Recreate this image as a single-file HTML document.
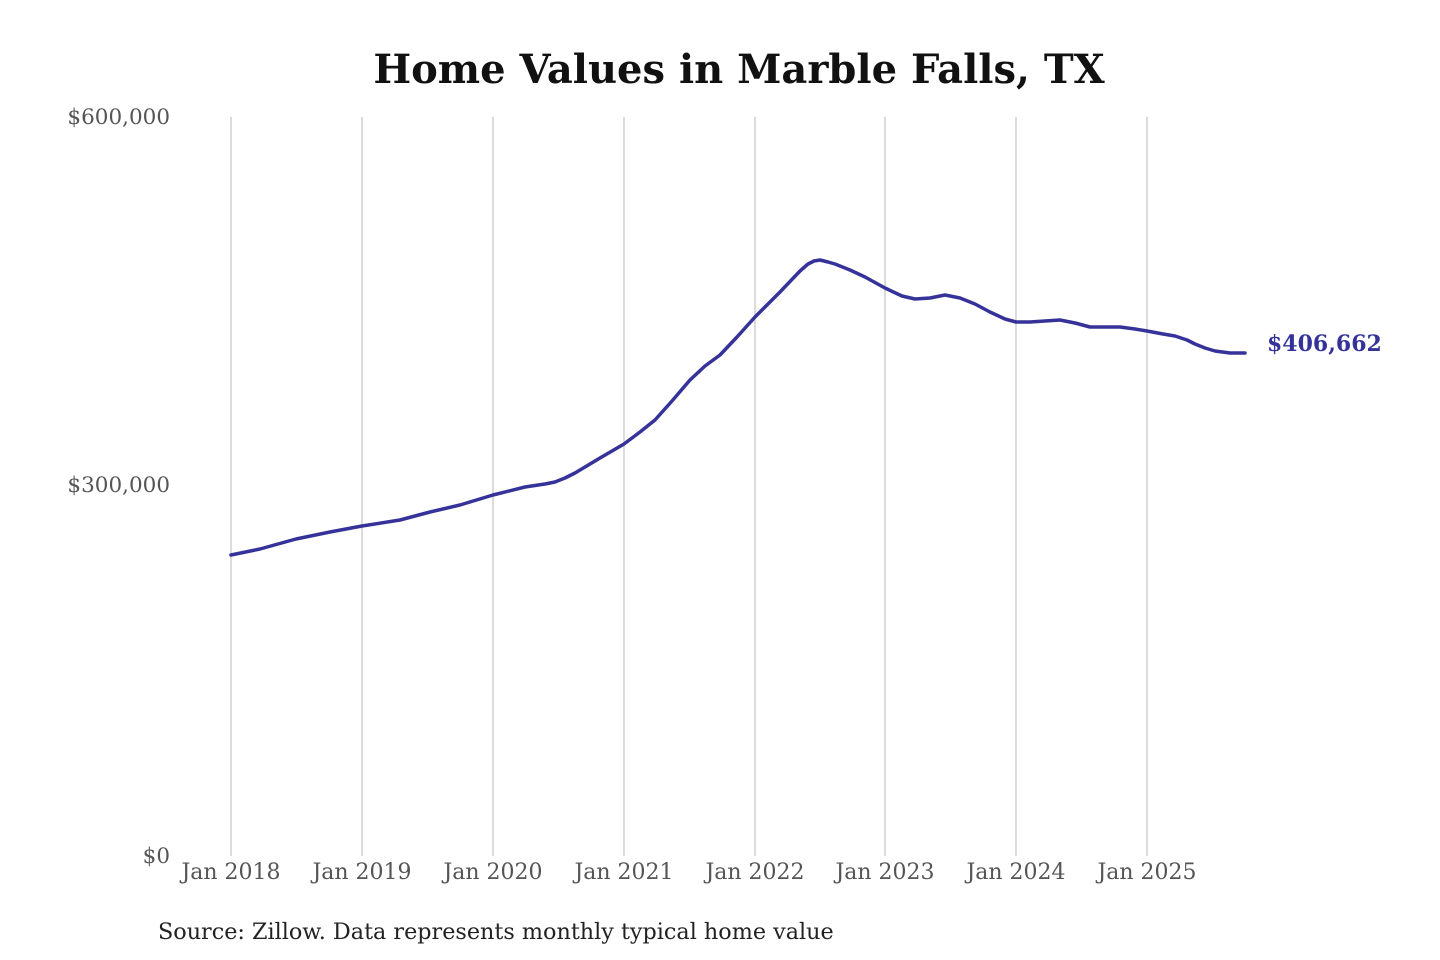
<!DOCTYPE html>
<html><head><meta charset="utf-8"><style>
html,body{margin:0;padding:0;background:#fff;}
svg{display:block}
</style></head><body>
<svg width="1440" height="960" viewBox="0 0 1440 960" xmlns="http://www.w3.org/2000/svg">
<rect width="1440" height="960" fill="#fff"/>
<text x="739" y="83" text-anchor="middle" font-family="DejaVu Serif, Liberation Serif, serif" font-weight="bold" font-size="40" fill="#111">Home Values in Marble Falls, TX</text>
<g stroke="#c8c8c8" stroke-width="1.3">
<line x1="231" y1="117" x2="231" y2="856"/><line x1="362" y1="117" x2="362" y2="856"/>
<line x1="493" y1="117" x2="493" y2="856"/><line x1="624" y1="117" x2="624" y2="856"/>
<line x1="755" y1="117" x2="755" y2="856"/><line x1="885" y1="117" x2="885" y2="856"/>
<line x1="1016" y1="117" x2="1016" y2="856"/><line x1="1147" y1="117" x2="1147" y2="856"/>
</g>
<g font-family="DejaVu Serif, Liberation Serif, serif" fill="#555">
<g font-size="21.5">
<text x="170" y="124" text-anchor="end">$600,000</text>
<text x="170" y="492" text-anchor="end">$300,000</text>
<text x="170" y="863" text-anchor="end">$0</text>
</g>
<g text-anchor="middle" font-size="22">
<text x="231" y="879">Jan 2018</text><text x="362" y="879">Jan 2019</text>
<text x="493" y="879">Jan 2020</text><text x="624" y="879">Jan 2021</text>
<text x="755" y="879">Jan 2022</text><text x="885" y="879">Jan 2023</text>
<text x="1016" y="879">Jan 2024</text><text x="1147" y="879">Jan 2025</text>
</g></g>
<polyline fill="none" stroke="#35339a" stroke-width="3.5" stroke-linejoin="round" stroke-linecap="round" points="231,555 260,549 296,539 330,532 362,526 400,520 430,512 460,505 493,495 525,487 545,484 555,482 565,478 575,473 590,464 600,458 612,451 624,444 640,432 655,420 672,401 690,380 705,366 720,355 737,337 755,317 780,292 800,271 808,264 814,261 820,260 828,262 835,264 850,270 865,277 885,288 902,296 915,299 930,298 945,295 960,298 975,304 990,312 1005,319 1016,322 1030,322 1045,321 1060,320 1075,323 1090,327 1120,327 1135,329 1147,331 1163,334 1175,336 1187,340 1195,344 1205,348 1215,351 1230,353 1245,353"/>
<text x="1267" y="351" font-family="DejaVu Serif, Liberation Serif, serif" font-weight="bold" font-size="22" fill="#35339a">$406,662</text>
<text x="158" y="939" font-family="DejaVu Serif, Liberation Serif, serif" font-size="22.3" fill="#222">Source: Zillow. Data represents monthly typical home value</text>
</svg>
</body></html>
